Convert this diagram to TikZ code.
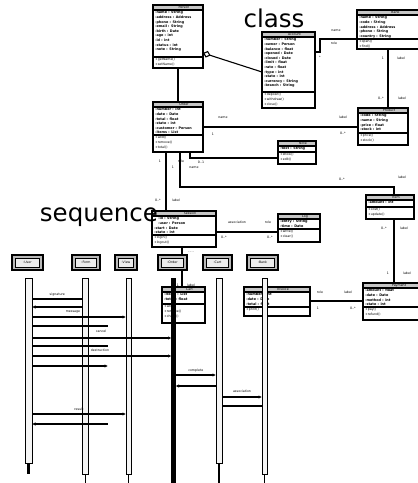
\documentclass[tikz,border=0pt]{standalone}
\usepackage{fontspec}
\setmainfont{DejaVu Sans}
\usepackage{tikz}
\usetikzlibrary{positioning,arrows.meta,calc}

\newcommand{\umlclass}[9]{%
  \node[classbox, minimum width=#4pt, minimum height=#5pt] (#1) at (#2,#3) {};
  \fill[gray!45] (#1.north west) rectangle ([yshift=-5pt]#1.north east);
  \draw[boxline] ([yshift=-5pt]#1.north west) -- ([yshift=-5pt]#1.north east);
  \draw[boxline] ([yshift=-#6pt]#1.north west) -- ([yshift=-#6pt]#1.north east);
  \node[lbl] (#1-t) at ([shift={(6pt,-2.5pt)}]#1.north) {#7};
  \node[lbl, font=\fontsize{3.4}{4.6}\bfseries, anchor=north west, align=left] (#1-a) at ([shift={(1.5pt,-5.8pt)}]#1.north west) {#8};
  \node[lbl, anchor=north west, align=left] (#1-o) at ([shift={(1.5pt,-#6pt-0.8pt)}]#1.north west) {#9};
  \draw[boxline] (#1.north west) rectangle (#1.south east);
}
\newcommand{\lifehead}[4]{%
  \node[lifehead, minimum width=#3pt] (#1) at (#2,262.5) {};
  \node[headtag, minimum width=#3pt-7pt] (#1-t) at (#1) {#4};
}

\begin{document}
\begin{tikzpicture}[
  x=1pt, y=-1pt,
  classbox/.style={fill=white, anchor=north west, inner sep=0pt, outer sep=0pt},
  boxline/.style={line width=1.1pt},
  assoc/.style={line width=1.1pt},
  lbl/.style={font=\fontsize{3.2}{4.6}\selectfont, inner sep=0.4pt},
  lifehead/.style={draw, line width=1.1pt, fill=gray!55, minimum height=15pt, inner sep=0pt},
  headtag/.style={draw, line width=0.5pt, fill=gray!15, minimum height=9pt, inner sep=0pt, font=\fontsize{3.2}{4}\selectfont},
  lifebar/.style={draw, line width=0.9pt, fill=gray!8, anchor=north, inner sep=0pt, outer sep=0pt},
  msg/.style={line width=1.1pt, -{Latex[length=3.5pt,width=3.5pt]}},
  reply/.style={line width=1.1pt},
  title/.style={font=\fontsize{24.5}{25}\selectfont, inner sep=0pt}
]
  \useasboundingbox (0,0) rectangle (418,483);
  \clip (0,0) rectangle (418,483);

  % class diagram
  \umlclass{person}{153}{5}{50}{63}{52}{Person}%
    {-name : String\\-address : Address\\-phone : String\\-email : String\\-birth : Date\\-age : int\\-id : int\\-status : int\\-note : String}%
    {+getName()\\+setName()}
  \umlclass{account}{262}{32}{53}{76}{60}{Account}%
    {-number : String\\-owner : Person\\-balance : float\\-opened : Date\\-closed : Date\\-limit : float\\-rate : float\\-type : int\\-state : int\\-currency : String\\-branch : String}%
    {+deposit()\\+withdraw()\\+close()}
  \umlclass{bank}{357}{10}{65}{39}{29}{Bank}%
    {-name : String\\-code : String\\-address : Address\\-phone : String\\-country : String}%
    {+open()\\+find()}
  \umlclass{order}{153}{102}{50}{50}{33}{Order}%
    {-number : int\\-date : Date\\-total : float\\-state : int\\-customer : Person\\-items : List}%
    {+add()\\+remove()\\+total()}
  \umlclass{product}{358}{108}{50}{37}{25}{Product}%
    {-code : String\\-name : String\\-price : float\\-stock : int}%
    {+price()\\+stock()}
  \umlclass{note}{278}{141}{38}{23}{11}{Note}%
    {-text : String}%
    {+show()\\+edit()}
  \umlclass{item}{366}{195}{48}{24}{12}{Item}%
    {-amount : int}%
    {+cost()\\+update()}
  \umlclass{payment}{363}{283}{60}{37}{24}{Payment}%
    {-amount : float\\-date : Date\\-method : int\\-state : int}%
    {+pay()\\+refund()}
  \umlclass{invoice}{244}{287}{66}{29}{20}{Invoice}%
    {-number : int\\-date : Date\\-total : float}%
    {+print()}
  \umlclass{session}{152}{211}{64}{36}{24}{Session}%
    {\hspace{4pt}-id : String\\\hspace{4pt}-user : Person\\-start : Date\\-state : int}%
    {+login()\\+logout()}
  \umlclass{log}{278}{214}{42}{28}{15}{Log}%
    {-entry : String\\-time : Date}%
    {+write()\\+clear()}
  \umlclass{cart}{162}{287}{43}{36}{17}{Cart}%
    {-items : List\\-total : float}%
    {+add()\\+remove()\\+check()}

  \draw[assoc] (person.south) -- (order.north);
  \draw[assoc, {Diamond[open, length=8pt, width=7pt]}-] (person.east |- 0,53) -- (account.west |- 0,72);
  \draw[assoc] (account.east |- 0,52) -- (320,52) |- (bank.west |- 0,39);
  \draw[assoc] (bank.south -| 388,0) -- (product.north -| 388,0);
  \draw[assoc] (order.east |- 0,127) -- (product.west |- 0,127);
  \draw[assoc] (order.south -| 190,0) |- (note.west |- 0,158);
  \draw[assoc] (order.south -| 180,0) |- (394,187) -- (item.north -| 394,0);
  \draw[assoc] (item.south -| 394,0) -- (payment.north -| 394,0);
  \draw[assoc] (order.south -| 166,0) -- (session.north -| 166,0);
  \draw[assoc] (session.east |- 0,232) -- (log.west |- 0,232);
  \draw[assoc] (session.south -| 182,0) -- (cart.north -| 182,0);
  \draw[assoc] (invoice.east |- 0,301) -- (payment.west |- 0,301);

  \node[lbl] (l1) at (336,31) {name};
  \node[lbl] (l2) at (334,43) {role};
  \node[lbl] (l3) at (320,57) {*};
  \node[lbl] (l4) at (383,58) {1};
  \node[lbl] (l5) at (401,58) {label};
  \node[lbl] (l6) at (381,98) {0..*};
  \node[lbl] (l7) at (402,98) {label};
  \node[lbl] (l8) at (223,118) {name};
  \node[lbl] (l9) at (213,134) {1};
  \node[lbl] (l10) at (343,117) {label};
  \node[lbl] (l11) at (343,133) {0..*};
  \node[lbl] (l12) at (160,161) {1};
  \node[lbl] (l13) at (181,161) {role};
  \node[lbl] (l14) at (201,162) {0..1};
  \node[lbl] (l15) at (173,167) {1};
  \node[lbl] (l16) at (194,168) {name};
  \node[lbl] (l17) at (342,179) {0..*};
  \node[lbl] (l18) at (402,177) {label};
  \node[lbl] (l19) at (384,228) {0..*};
  \node[lbl] (l20) at (404,228) {label};
  \node[lbl] (l21) at (388,273) {1};
  \node[lbl] (l22) at (407,273) {label};
  \node[lbl] (l23) at (158,200) {0..*};
  \node[lbl] (l24) at (176,200) {label};
  \node[lbl] (l25) at (237,222) {association};
  \node[lbl] (l26) at (268,222) {role};
  \node[lbl] (l27) at (224,237) {0..*};
  \node[lbl] (l28) at (270,237) {0..*};
  \node[lbl] (l29) at (191,252) {- - -};
  \node[lbl] (l30) at (178,285) {1};
  \node[lbl] (l31) at (191,285) {label};
  \node[lbl] (l32) at (320,292) {role};
  \node[lbl] (l33) at (348,292) {label};
  \node[lbl] (l34) at (318,308) {1};
  \node[lbl] (l35) at (353,308) {0..*};

  % sequence diagram
  \lifehead{user}{27.5}{31}{:User}
  \lifehead{form}{86}{28}{:Form}
  \lifehead{view}{126}{22}{:View}
  \lifehead{ctrl}{172.5}{29}{:Order}
  \lifehead{store}{217.5}{29}{:Cart}
  \lifehead{bankln}{262.5}{31}{:Bank}

  \node[lifebar, minimum width=7pt, minimum height=185pt] (ll1) at (28.5,278) {};
  \node[lifebar, minimum width=6pt, minimum height=196pt] (ll2) at (85.5,278) {};
  \node[lifebar, minimum width=5pt, minimum height=196pt] (ll3) at (128.5,278) {};
  \node[lifebar, fill=black, minimum width=4pt, minimum height=205pt] (ll4) at (173.5,278) {};
  \node[lifebar, minimum width=6pt, minimum height=185pt] (ll5) at (219,278) {};
  \node[lifebar, minimum width=5pt, minimum height=196pt] (ll6) at (264.5,278) {};
  \coordinate (stub) at (108,0);

  \draw[line width=3pt] (ll1.south) -- (ll1.south |- 0,474);
  \draw[line width=1.5pt] (ll2.south) -- (ll2.south |- 0,483);
  \draw[line width=1.5pt] (ll3.south) -- (ll3.south |- 0,483);
  \draw[line width=1.5pt] (ll5.south) -- (ll5.south |- 0,483);
  \draw[line width=1.5pt] (ll6.south) -- (ll6.south |- 0,483);

  \draw[reply] (ll1.east |- 0,299) -- node[lbl, above=1.5pt] (m1) {signature} (ll2.west |- 0,299);
  \draw[msg] (ll2.west |- 0,307) -- (ll1.east |- 0,307);
  \draw[msg] (ll1.east |- 0,317) -- (ll3.west |- 0,317);
  \node[lbl] (m3) at (73,312) {message};
  \draw[reply] (ll1.east |- 0,326) -- (stub |- 0,326);
  \node[lbl] (m4) at (101,331) {cancel};
  \draw[msg] (ll1.east |- 0,338) -- (ll4.west |- 0,338);
  \draw[reply] (ll1.east |- 0,346) -- (stub |- 0,346);
  \node[lbl] (m7) at (100,350) {destruction};
  \draw[msg] (ll1.east |- 0,356) -- (ll4.west |- 0,356);
  \draw[msg] (ll1.east |- 0,366) -- (stub |- 0,366);
  \draw[msg] (ll4.east |- 0,375) -- node[lbl, above=1.5pt] (m9) {complete} (ll5.west |- 0,375);
  \draw[msg] (ll5.west |- 0,386) -- (ll4.east |- 0,386);
  \draw[msg] (ll5.east |- 0,397) -- node[lbl, above=4pt] (m11) {association} (ll6.west |- 0,397);
  \draw[reply] (ll6.west |- 0,406) -- (ll5.east |- 0,406);
  \draw[msg] (ll1.east |- 0,414) -- node[lbl, above=3pt] (m13) {result} (ll3.west |- 0,414);
  \draw[msg, {Latex[length=3.5pt,width=3.5pt]}-] (ll1.east |- 0,424) -- (stub |- 0,424);

  \node[title] (classtitle) at (274,18) {class};
  \node[title] (seqtitle) at (99,217) {sequence};
\end{tikzpicture}
\end{document}
